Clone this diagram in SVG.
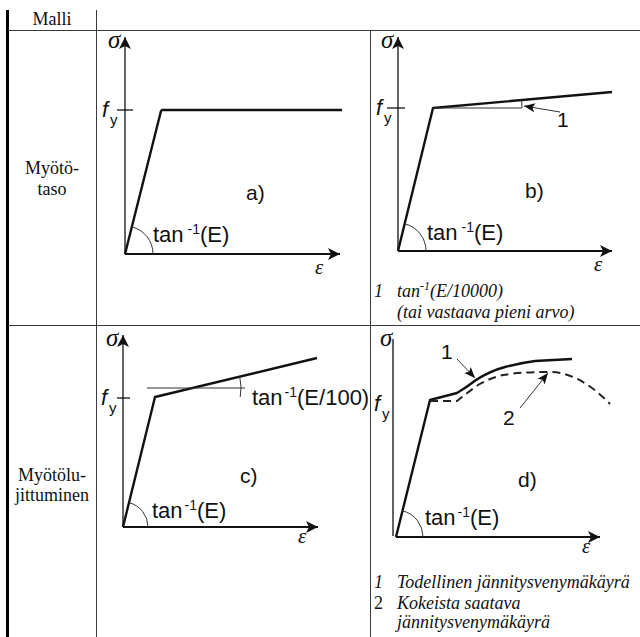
<svg xmlns="http://www.w3.org/2000/svg" width="640" height="637" viewBox="0 0 640 637">
<defs>
<style>
.tbl{stroke:#3a3a3a;stroke-width:1;fill:none}
.ax{stroke:#111;stroke-width:1.3;fill:none}
.axx{stroke:#111;stroke-width:2.2;fill:none}
.cv{stroke:#111;stroke-width:2.4;fill:none;stroke-linejoin:round}
.thin{stroke:#333;stroke-width:1;fill:none}
.dash{stroke:#222;stroke-width:2;fill:none;stroke-dasharray:8 5}
.lbl{font-family:'Liberation Sans',sans-serif;font-size:21px;fill:#111}
.tn{font-family:'Liberation Sans',sans-serif;font-size:22px;fill:#111}
.sub{font-family:'Liberation Sans',sans-serif;font-size:15px;fill:#111}
.sym{font-family:'Liberation Serif',serif;font-style:italic;fill:#111}
.fy{font-family:'Liberation Sans',sans-serif;font-style:italic;font-size:22px;fill:#111}
.row{font-family:'Liberation Serif',serif;font-size:18px;fill:#111}
.note{font-family:'Liberation Serif',serif;font-style:italic;font-size:18px;fill:#111}
</style>
<marker id="ah" markerWidth="14" markerHeight="14" refX="13" refY="7" orient="auto" markerUnits="userSpaceOnUse">
<path d="M13,7 L1,1 L4,7 L1,13 Z" fill="#111"/>
</marker>
<marker id="sa" markerWidth="12" markerHeight="10" refX="11" refY="5" orient="auto" markerUnits="userSpaceOnUse">
<path d="M11,5 L0,0.5 L2.5,5 L0,9.5 Z" fill="#111"/>
</marker>
</defs>
<rect width="640" height="637" fill="#fff"/>

<g id="table">
<line x1="7.5" y1="10" x2="7.5" y2="637" stroke="#000" stroke-width="3"/>
<line class="tbl" x1="96.5" y1="10" x2="96.5" y2="637"/>
<line class="tbl" x1="370.5" y1="30.5" x2="370.5" y2="637"/>
<line class="tbl" x1="8" y1="30.5" x2="640" y2="30.5"/>
<line class="tbl" x1="8" y1="325.5" x2="640" y2="325.5"/>
<text class="row" x="52" y="25" text-anchor="middle">Malli</text>
<text class="row" x="52" y="174" text-anchor="middle">Myötö-</text>
<text class="row" x="52" y="195" text-anchor="middle">taso</text>
<text class="row" x="52" y="481" text-anchor="middle">Myötölu-</text>
<text class="row" x="52" y="501" text-anchor="middle">jittuminen</text>
</g>

<g id="panel-a">
<line class="ax" x1="125" y1="254" x2="125" y2="37" marker-end="url(#ah)"/>
<line class="axx" x1="125" y1="254" x2="340" y2="254" marker-end="url(#ah)"/>
<line class="ax" x1="117" y1="110" x2="133" y2="110"/>
<polyline class="cv" points="125,254 161,111 162,110 342,110"/>
<path class="thin" d="M153,254 A28,28 0 0 0 131.8,226.8"/>
<text class="sym" x="108" y="48" font-size="25">σ</text>
<text class="fy" x="102" y="117">f</text>
<text class="sub" x="110" y="125">y</text>
<text class="sym" x="315" y="274" font-size="21">ε</text>
<text class="lbl" x="246" y="200">a)</text>
<text class="tn" x="153" y="242">tan<tspan dx="4" dy="-8" font-size="14">-1</tspan><tspan dy="8">(E)</tspan></text>
</g>

<g id="panel-b">
<line class="ax" x1="398" y1="251" x2="398" y2="37" marker-end="url(#ah)"/>
<line class="axx" x1="398" y1="251" x2="612" y2="251" marker-end="url(#ah)"/>
<line class="ax" x1="387" y1="108" x2="405" y2="108"/>
<polyline class="cv" points="398,251 433,108 612,92"/>
<line class="thin" x1="433" y1="108" x2="522" y2="108"/>
<path class="thin" d="M522,108 A89,89 0 0 0 521.6,100.1"/>
<line class="thin" x1="560" y1="112" x2="524" y2="106" marker-end="url(#sa)"/>
<text class="lbl" x="557" y="127">1</text>
<path class="thin" d="M426,251 A28,28 0 0 0 404.7,223.8"/>
<text class="sym" x="381" y="48" font-size="25">σ</text>
<text class="fy" x="376" y="115">f</text>
<text class="sub" x="384" y="123">y</text>
<text class="sym" x="594" y="271" font-size="21">ε</text>
<text class="lbl" x="525" y="198">b)</text>
<text class="tn" x="427" y="240">tan<tspan dx="4" dy="-8" font-size="14">-1</tspan><tspan dy="8">(E)</tspan></text>
<text class="note" x="374" y="297">1</text>
<text class="note" x="397" y="297">tan<tspan dy="-7" font-size="12">-1</tspan><tspan dy="7">(E/10000)</tspan></text>
<text class="note" x="397" y="318">(tai vastaava pieni arvo)</text>
</g>

<g id="panel-c">
<line class="ax" x1="123" y1="527" x2="123" y2="335" marker-end="url(#ah)"/>
<line class="axx" x1="123" y1="527" x2="318" y2="527" marker-end="url(#ah)"/>
<line class="ax" x1="117" y1="398" x2="130" y2="398"/>
<polyline class="cv" points="123,527 155,397 317,358"/>
<line class="thin" x1="147" y1="388" x2="245" y2="388"/>
<path class="thin" d="M239.7,376.6 A48.6,48.6 0 0 1 240.2,397"/>
<path class="thin" d="M148,527 A25,25 0 0 0 129,502.7"/>
<text class="sym" x="106" y="346" font-size="25">σ</text>
<text class="fy" x="101" y="405">f</text>
<text class="sub" x="109" y="413">y</text>
<text class="sym" x="298" y="543" font-size="21">ε</text>
<text class="lbl" x="240" y="483">c)</text>
<text class="tn" x="152" y="518">tan<tspan dx="2" dy="-8" font-size="14">-1</tspan><tspan dy="8">(E)</tspan></text>
<text class="tn" x="252" y="405">tan<tspan dx="2" dy="-8" font-size="14">-1</tspan><tspan dy="8">(E/100)</tspan></text>
</g>

<g id="panel-d">
<line class="ax" x1="393" y1="339" x2="393" y2="536"/>
<line class="axx" x1="396" y1="537" x2="600" y2="537" marker-end="url(#ah)"/>
<path class="cv" d="M396,537 L430,400 L457,393 Q467,387 476,380 Q490,371 505,367 Q520,363 535,361 L572,359"/>
<path class="dash" d="M430,401 L457,401 Q467,393 478,385 Q490,378 503,375 Q520,372 548,372 Q578,371 610,404"/>
<line class="thin" x1="457" y1="359" x2="475" y2="378" marker-end="url(#sa)"/>
<line class="thin" x1="520" y1="408" x2="548" y2="373" marker-end="url(#sa)"/>
<text class="lbl" x="441" y="359">1</text>
<text class="lbl" x="503" y="425">2</text>
<path class="thin" d="M423,537 A27,27 0 0 0 402.5,510.8"/>
<text class="sym" x="380" y="346" font-size="25">σ</text>
<text class="fy" x="374" y="411">f</text>
<text class="sub" x="382" y="419">y</text>
<text class="sym" x="582" y="553" font-size="21">ε</text>
<text class="lbl" x="518" y="487">d)</text>
<text class="tn" x="425" y="525">tan<tspan dx="2" dy="-8" font-size="14">-1</tspan><tspan dy="8">(E)</tspan></text>
<text class="note" x="374" y="588">1</text>
<text class="note" x="397" y="588">Todellinen jännitysvenymäkäyrä</text>
<text class="row" x="374" y="609">2</text>
<text class="note" x="397" y="609">Kokeista saatava</text>
<text class="note" x="397" y="628">jännitysvenymäkäyrä</text>
</g>
</svg>
